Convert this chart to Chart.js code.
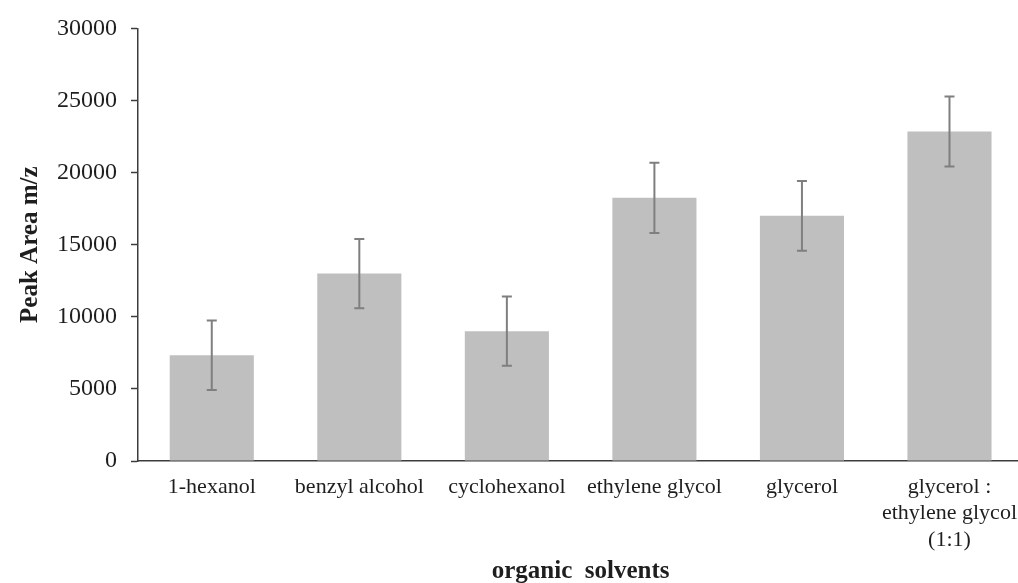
<!DOCTYPE html>
<html>
<head>
<meta charset="utf-8">
<script src="https://cdn.jsdelivr.net/npm/chart.js@4/dist/chart.umd.min.js"></script>
<style>
  html, body { margin: 0; padding: 0; background: #ffffff; overflow: hidden; }
  #wrap { width: 1018px; height: 583px; overflow: hidden; }
  canvas { display: block; }
</style>
</head>
<body>
<div id="wrap"><canvas id="chart" width="1030" height="583"></canvas></div>
<script>
// Solvents tested (multi-line label for the mixture)
const categories = [
  '1-hexanol',
  'benzyl alcohol',
  'cyclohexanol',
  'ethylene glycol',
  'glycerol',
  ['glycerol :', 'ethylene glycol', '(1:1)']
];

// Mean peak area and its standard deviation for each solvent
const peakArea = [7330, 13000, 9000, 18250, 17000, 22850];
const peakError = [2410, 2400, 2400, 2430, 2420, 2425];

// Value axis ticks
const yTicks = [0, 5000, 10000, 15000, 20000, 25000, 30000];

const textColor = '#1e1e1e';
const axisColor = '#3c3c3c';

// Draws the +/- error whiskers on top of each bar
const errorBars = {
  id: 'errorBars',
  afterDatasetsDraw(chart) {
    const { ctx, scales: { y } } = chart;
    const meta = chart.getDatasetMeta(0);
    ctx.save();
    ctx.strokeStyle = '#7f7f7f';
    ctx.lineWidth = 2;
    meta.data.forEach((bar, i) => {
      const x = bar.x;
      const top = y.getPixelForValue(peakArea[i] + peakError[i]);
      const bottom = y.getPixelForValue(peakArea[i] - peakError[i]);
      const cap = 5;
      ctx.beginPath();
      ctx.moveTo(x, top);
      ctx.lineTo(x, bottom);
      ctx.moveTo(x - cap, top);
      ctx.lineTo(x + cap, top);
      ctx.moveTo(x - cap, bottom);
      ctx.lineTo(x + cap, bottom);
      ctx.stroke();
    });
    ctx.restore();
  }
};

new Chart(document.getElementById('chart'), {
  type: 'bar',
  data: {
    labels: categories,
    datasets: [{
      data: peakArea,
      backgroundColor: '#bfbfbf',
      borderWidth: 0,
      barPercentage: 0.57,
      categoryPercentage: 1.0
    }]
  },
  options: {
    responsive: false,
    animation: false,
    layout: { padding: { top: 26, right: 0, bottom: 0, left: 0 } },
    plugins: {
      legend: { display: false },
      tooltip: { enabled: false }
    },
    scales: {
      x: {
        grid: { display: false, drawTicks: false },
        border: { display: true, color: axisColor, width: 1.5 },
        ticks: {
          color: textColor,
          font: { family: 'Liberation Serif', size: 22, lineHeight: 1.2 },
          padding: 13,
          maxRotation: 0,
          minRotation: 0,
          autoSkip: false
        },
        title: {
          display: true,
          text: 'organic  solvents',
          color: textColor,
          font: { family: 'Liberation Serif', size: 25, weight: 'bold', lineHeight: 0.9 },
          padding: { top: 0, bottom: 0 }
        },
        afterFit(scale) { scale.height = 122; }
      },
      y: {
        min: 0,
        max: 30000,
        afterBuildTicks(scale) { scale.ticks = yTicks.map(v => ({ value: v })); },
        grid: {
          drawOnChartArea: false,
          drawTicks: true,
          tickLength: 7,
          tickColor: axisColor,
          tickWidth: 1.5
        },
        border: { display: true, color: axisColor, width: 1.5 },
        ticks: {
          color: textColor,
          font: { family: 'Liberation Serif', size: 24 },
          padding: 14,
          callback: (value) => String(value)
        },
        title: {
          display: true,
          text: 'Peak Area m/z',
          color: textColor,
          font: { family: 'Liberation Serif', size: 25, weight: 'bold', lineHeight: 1 },
          padding: { top: 18, bottom: 0 }
        },
        afterFit(scale) { scale.width = 138; }
      }
    }
  },
  plugins: [errorBars]
});
</script>
</body>
</html>
